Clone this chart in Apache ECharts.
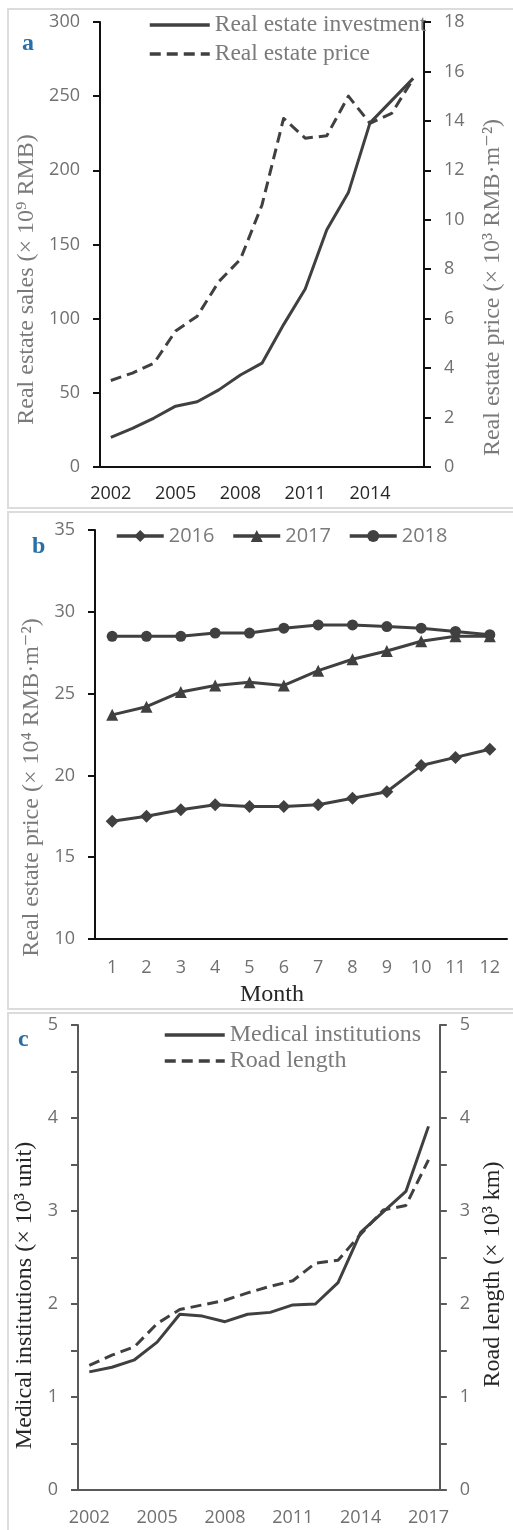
<!DOCTYPE html>
<html><head><meta charset="utf-8">
<script src="https://cdn.jsdelivr.net/npm/echarts@6/dist/echarts.min.js"></script>
<style>html,body{margin:0;padding:0;background:#fff}#c{width:513px;height:1530px}</style>
</head><body><div id="c"></div>
<script>
// ---------- data ----------
const yearsA = ['2002','2003','2004','2005','2006','2007','2008','2009','2010','2011','2012','2013','2014','2015','2016'];
const investment = [20, 26, 33, 41, 44, 52, 62, 70, 96, 120, 160, 185, 232, 247, 262];
const priceA = [3.5, 3.8, 4.2, 5.5, 6.1, 7.5, 8.4, 10.6, 14.1, 13.3, 13.4, 15.0, 13.9, 14.3, 15.7];

const months = ['1','2','3','4','5','6','7','8','9','10','11','12'];
const p2016 = [17.2, 17.5, 17.9, 18.2, 18.1, 18.1, 18.2, 18.6, 19.0, 20.6, 21.1, 21.6];
const p2017 = [23.7, 24.2, 25.1, 25.5, 25.7, 25.5, 26.4, 27.1, 27.6, 28.2, 28.5, 28.5];
const p2018 = [28.5, 28.5, 28.5, 28.7, 28.7, 29.0, 29.2, 29.2, 29.1, 29.0, 28.8, 28.6];

const yearsC = ['2002','2003','2004','2005','2006','2007','2008','2009','2010','2011','2012','2013','2014','2015','2016','2017'];
const medical = [1.27, 1.32, 1.40, 1.59, 1.89, 1.87, 1.81, 1.89, 1.91, 1.99, 2.00, 2.23, 2.77, 2.99, 3.21, 3.91];
const road = [1.34, 1.45, 1.54, 1.79, 1.94, 1.99, 2.04, 2.12, 2.19, 2.25, 2.44, 2.47, 2.75, 3.01, 3.06, 3.55];

const namesA = ['Real estate investment', 'Real estate price'];
const namesB = ['2016', '2017', '2018'];
const namesC = ['Medical institutions', 'Road length'];

// ---------- styles ----------
const SANS = '"Open Sans", "Liberation Sans", sans-serif';
const SERIF = '"Liberation Serif", "DejaVu Serif", serif';
const GRAY = '#707070';
const DARK = '#262626';
const LINE = '#404040';
const DASH = [11, 6];
const BLUE = '#2a6ea6';

function catAxis(gridIndex, data, labelInterval, labelColor, axisColor, margin) {
  return {
    type: 'category', gridIndex, data, boundaryGap: true,
    axisLine: { lineStyle: { color: axisColor, width: 2 } },
    axisTick: { interval: 0, length: 6, lineStyle: { color: axisColor, width: 2 } },
    axisLabel: { interval: labelInterval, fontFamily: SANS, fontSize: 18, color: labelColor, margin },
    splitLine: { show: false }
  };
}
function valAxis(gridIndex, pos, min, max, interval, axisColor, name, nameGap, shift, nameColor, formatter) {
  return {
    type: 'value', gridIndex, position: pos, min, max, interval,
    axisLine: { show: true, lineStyle: { color: axisColor, width: 2 } },
    axisTick: { show: true, length: 7, lineStyle: { color: axisColor, width: 2 } },
    axisLabel: { fontFamily: SANS, fontSize: 18, color: GRAY, margin: 20, formatter: formatter },
    splitLine: { show: false },
    name, nameLocation: 'middle', nameRotate: 90, nameGap,
    nameTextStyle: { fontFamily: SERIF, fontSize: 24, lineHeight: 24, color: nameColor, padding: [0, shift * 2, 0, 0] }
  };
}

const chart = echarts.init(document.getElementById('c'), null, { renderer: 'canvas' });
chart.setOption({
  animation: false,
  backgroundColor: '#fff',
  graphic: [
    { type: 'rect', shape: { x: 8, y: 9, width: 512, height: 499 }, style: { fill: 'none', stroke: '#dcdcdc', lineWidth: 2 }, z: -1 },
    { type: 'rect', shape: { x: 8, y: 512, width: 512, height: 497 }, style: { fill: 'none', stroke: '#dcdcdc', lineWidth: 2 }, z: -1 },
    { type: 'rect', shape: { x: 8, y: 1013, width: 512, height: 530 }, style: { fill: 'none', stroke: '#dcdcdc', lineWidth: 2 }, z: -1 },
    { type: 'text', left: 22, top: 32, style: { text: 'a', font: 'bold 24px "Liberation Serif"', fill: BLUE } },
    { type: 'text', left: 32, top: 535, style: { text: 'b', font: 'bold 24px "Liberation Serif"', fill: BLUE } },
    { type: 'text', left: 18, top: 1028, style: { text: 'c', font: 'bold 24px "Liberation Serif"', fill: BLUE } }
  ],
  grid: [
    { left: 100, top: 22, width: 339, height: 445 },
    { left: 95, top: 530, width: 412, height: 409 },
    { left: 78, top: 1025, width: 373, height: 465 }
  ],
  legend: [
    { orient: 'vertical', left: 143, top: 8, itemWidth: 60, itemHeight: 14, itemGap: 5, data: namesA,
      itemStyle: { opacity: 0 }, lineStyle: { width: 3.5 },
      textStyle: { fontFamily: SERIF, fontSize: 23.5, lineHeight: 24, color: '#7a7a7a' } },
    { orient: 'horizontal', left: 110, top: 521, itemWidth: 47, itemHeight: 15, itemGap: 17, data: namesB,
      lineStyle: { width: 3.5 },
      textStyle: { fontFamily: SANS, fontSize: 20, color: '#7a7a7a' } },
    { orient: 'vertical', left: 158, top: 1018, itemWidth: 60, itemHeight: 14, itemGap: 2, data: namesC,
      itemStyle: { opacity: 0 }, lineStyle: { width: 3.5 },
      textStyle: { fontFamily: SERIF, fontSize: 24, lineHeight: 24, color: '#7a7a7a' } }
  ],
  xAxis: [
    catAxis(0, yearsA, 2, DARK, '#111', 18),
    Object.assign(catAxis(1, months, 0, GRAY, '#111', 20), {
      name: 'Month', nameLocation: 'middle', nameGap: 44,
      nameTextStyle: { fontFamily: SERIF, fontSize: 24, lineHeight: 24, color: DARK, padding: [0, 58, 0, 0] }
    }),
    catAxis(2, yearsC, 2, GRAY, '#595959', 19)
  ],
  yAxis: [
    valAxis(0, 'left', 0, 300, 50, '#111', 'Real estate sales (× 10⁹ RMB)', 58, 35, '#7a7a7a'),
    valAxis(0, 'right', 0, 18, 2, '#111', 'Real estate price (× 10³ RMB·m⁻²)', 57, 43, '#7a7a7a'),
    valAxis(1, 'left', 10, 35, 5, '#111', 'Real estate price (× 10⁴ RMB·m⁻²)', 50, 53, '#7a7a7a'),
    valAxis(2, 'left', 0, 5, 0.5, '#595959', 'Medical institutions (× 10³ unit)', 35, 38, DARK,
      v => (Math.abs(v - Math.round(v)) < 1e-9 ? String(Math.round(v)) : '')),
    valAxis(2, 'right', 0, 5, 0.5, '#595959', 'Road length (× 10³ km)', 38, 17, DARK,
      v => (Math.abs(v - Math.round(v)) < 1e-9 ? String(Math.round(v)) : ''))
  ],
  series: [
    { name: namesA[0], type: 'line', xAxisIndex: 0, yAxisIndex: 0, data: investment, symbol: 'none',
      lineStyle: { color: LINE, width: 3, join: 'round' }, itemStyle: { color: LINE } },
    { name: namesA[1], type: 'line', xAxisIndex: 0, yAxisIndex: 1, data: priceA, symbol: 'none',
      lineStyle: { color: LINE, width: 3, type: DASH, join: 'round' }, itemStyle: { color: LINE } },
    { name: namesB[0], type: 'line', xAxisIndex: 1, yAxisIndex: 2, data: p2016, symbol: 'diamond', symbolSize: 13,
      lineStyle: { color: LINE, width: 3 }, itemStyle: { color: LINE } },
    { name: namesB[1], type: 'line', xAxisIndex: 1, yAxisIndex: 2, data: p2017, symbol: 'triangle', symbolSize: 12,
      lineStyle: { color: LINE, width: 3 }, itemStyle: { color: LINE } },
    { name: namesB[2], type: 'line', xAxisIndex: 1, yAxisIndex: 2, data: p2018, symbol: 'circle', symbolSize: 11,
      lineStyle: { color: LINE, width: 3 }, itemStyle: { color: LINE } },
    { name: namesC[0], type: 'line', xAxisIndex: 2, yAxisIndex: 3, data: medical, symbol: 'none',
      lineStyle: { color: LINE, width: 3, join: 'round' }, itemStyle: { color: LINE } },
    { name: namesC[1], type: 'line', xAxisIndex: 2, yAxisIndex: 4, data: road, symbol: 'none',
      lineStyle: { color: LINE, width: 3, type: DASH, join: 'round' }, itemStyle: { color: LINE } }
  ]
});
</script>
</body></html>
